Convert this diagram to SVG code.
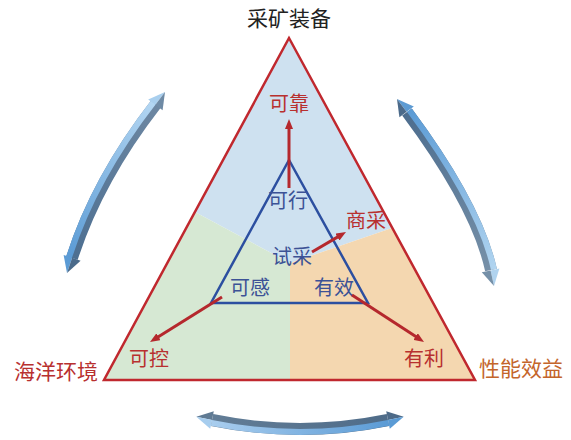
<svg xmlns="http://www.w3.org/2000/svg" width="571" height="440" viewBox="0 0 571 440">
<style>
.lbl{font-family:"Noto Sans CJK SC","Noto Sans CJK JP",sans-serif;text-anchor:middle}
.big{font-size:21px}
.mid{font-size:20px}
.red{fill:#b8302f}
.blue{fill:#3c5296}
.dark{fill:#222}
.orng{fill:#c4652b}
.rarrow{stroke:#b5282d;stroke-width:3;fill:none;marker-end:url(#ah)}
</style>
<defs>
<marker id="ah" viewBox="0 0 10 8" refX="2" refY="4" markerWidth="10" markerHeight="8" markerUnits="userSpaceOnUse" orient="auto">
<path d="M0,0 L10,4 L0,8 z" fill="#b5282d"/>
</marker>
<linearGradient id="gL" gradientUnits="userSpaceOnUse" x1="156" y1="104" x2="72" y2="258">
<stop offset="0" stop-color="#b3d6f2"/><stop offset="1" stop-color="#5b9bd5"/>
</linearGradient>
<linearGradient id="gLd" gradientUnits="userSpaceOnUse" x1="156" y1="104" x2="72" y2="258">
<stop offset="0" stop-color="#6d87a2"/><stop offset="1" stop-color="#4d6f91"/>
</linearGradient>
<linearGradient id="gR" gradientUnits="userSpaceOnUse" x1="407" y1="112" x2="491" y2="270">
<stop offset="0" stop-color="#5b9bd5"/><stop offset="1" stop-color="#b0d4f0"/>
</linearGradient>
<linearGradient id="gRd" gradientUnits="userSpaceOnUse" x1="407" y1="112" x2="491" y2="270">
<stop offset="0" stop-color="#4d6d8e"/><stop offset="1" stop-color="#7690a8"/>
</linearGradient>
<linearGradient id="gB" gradientUnits="userSpaceOnUse" x1="212" y1="420" x2="388" y2="420">
<stop offset="0" stop-color="#a8cdee"/><stop offset="1" stop-color="#5b9bd5"/>
</linearGradient>
<linearGradient id="gBd" gradientUnits="userSpaceOnUse" x1="212" y1="420" x2="388" y2="420">
<stop offset="0" stop-color="#627d96"/><stop offset="1" stop-color="#4f6c89"/>
</linearGradient>
</defs>

<g id="regions">
<polygon points="289,38 392,228 290,263 195,212" fill="#cee1f0"/>
<polygon points="195,212 290,263 290,380 104,380" fill="#d6e8d3"/>
<polygon points="290,263 392,228 475,380 290,380" fill="#f4d7b0"/>
</g>

<g id="outer-triangle">
<polygon points="289,38 104,380 475,380" fill="none" stroke="#c0282e" stroke-width="2.5"/>
</g>
<g id="inner-triangle">
<polygon points="289,160 211,303 368,303" fill="none" stroke="#2c4fa0" stroke-width="2.5"/>
</g>

<g id="node-top"><text class="lbl big dark" x="289" y="26">采矿装备</text></g>
<g id="node-left"><text class="lbl big red" x="56" y="379">海洋环境</text></g>
<g id="node-right"><text class="lbl big orng" x="521" y="376">性能效益</text></g>
<g id="node-kekao"><text class="lbl mid red" x="289" y="111">可靠</text></g>
<g id="node-kexing"><text class="lbl mid blue" x="288" y="208">可行</text></g>
<g id="node-shicai"><text class="lbl mid blue" x="292" y="264">试采</text></g>
<g id="node-kegan"><text class="lbl mid blue" x="250" y="295">可感</text></g>
<g id="node-youxiao"><text class="lbl mid blue" x="334" y="295">有效</text></g>
<g id="node-shangcai"><text class="lbl mid red" x="366" y="228">商采</text></g>
<g id="node-kekong"><text class="lbl mid red" x="149" y="366">可控</text></g>
<g id="node-youli"><text class="lbl mid red" x="424" y="366">有利</text></g>

<g id="connectors">
<line class="rarrow" x1="289" y1="188" x2="289" y2="127"/>
<line class="rarrow" x1="312" y1="252" x2="339.1" y2="236.1"/>
<line class="rarrow" x1="222" y1="297" x2="156.8" y2="337.8"/>
<line class="rarrow" x1="352" y1="295" x2="417.3" y2="337.6"/>

<g id="cycle-left">
<path d="M156,104 Q97,180 72,258" fill="none" stroke="url(#gLd)" stroke-width="12"/>
<path d="M153.6,102.2 Q94.3,178.6 69.1,257.1" fill="none" stroke="url(#gL)" stroke-width="6"/>
<polygon points="165,92 155.4,104.8 148.2,99.4" fill="#a9cfee"/>
<polygon points="165,92 155.4,104.8 162.6,110.2" fill="#6e8aa5"/>
<polygon points="67,273 72.1,257.8 63.6,254.9" fill="#5b9bd5"/>
<polygon points="67,273 72.1,257.8 80.6,260.7" fill="#4b6b8b"/>
</g>

<g id="cycle-right">
<path d="M407,112 Q477,206 491,270" fill="none" stroke="url(#gRd)" stroke-width="12"/>
<path d="M409.4,110.2 Q479.7,204.8 493.9,269.4" fill="none" stroke="url(#gR)" stroke-width="6"/>
<polygon points="397,99 406.6,111.8 413.8,106.4" fill="#5d9bd3"/>
<polygon points="397,99 406.6,111.8 399.4,117.2" fill="#4b6a8a"/>
<polygon points="494,286 490.6,270.4 499.4,268.5" fill="#b0d3ef"/>
<polygon points="494,286 490.6,270.4 481.8,272.3" fill="#7590a8"/>
</g>

<g id="cycle-bottom">
<path d="M212,420 Q300,438 388,420" fill="none" stroke="url(#gBd)" stroke-width="12"/>
<path d="M211.4,422.9 Q300,441 388.6,422.9" fill="none" stroke="url(#gB)" stroke-width="6"/>
<polygon points="196.3,416.8 212,420 213.8,411.2" fill="#5f7a93"/>
<polygon points="196.3,416.8 212,420 210.2,428.8" fill="#a7cdee"/>
<polygon points="403.7,416.8 388,420 386.2,411.2" fill="#4d6a88"/>
<polygon points="403.7,416.8 388,420 389.8,428.8" fill="#5b9bd5"/>
</g>
</g>
</svg>
